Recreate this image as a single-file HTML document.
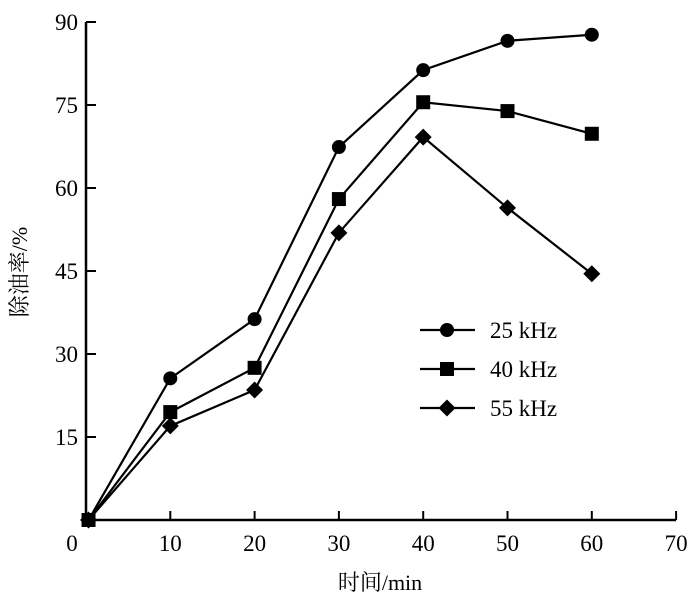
<!DOCTYPE html>
<html><head><meta charset="utf-8"><style>body{margin:0;background:#fff}svg text{font-family:"Liberation Serif","Noto Serif CJK SC",serif;fill:#000}</style></head>
<body>
<svg id="chart" width="700" height="601" xmlns="http://www.w3.org/2000/svg"></svg>
<script>
const times=[0.3,10,20,30,40,50,60];
const s25=[0,25.6,36.3,67.4,81.3,86.6,87.7];
const s40=[0,19.5,27.5,58,75.5,73.9,69.8];
const s55=[0,17,23.5,51.9,69.2,56.4,44.5];
const xTicks=[0,10,20,30,40,50,60,70];
const yTicks=[15,30,45,60,75,90];
const seriesNames=["25 kHz","40 kHz","55 kHz"];
const NS="http://www.w3.org/2000/svg";
const svg=document.getElementById('chart');
const X=v=>86+v*8.43, Y=v=>520-v*83/15;
function mk(t,a){const e=document.createElementNS(NS,t);for(const k in a)e.setAttribute(k,a[k]);svg.appendChild(e);return e;}
let e=mk('path',{d:`M86,22V520H${X(70)}`,fill:'none',stroke:'#000','stroke-width':2.5});


xTicks.forEach(t=>{
 if(t>0){let l=mk('line',{x1:X(t),x2:X(t),y1:520,y2:511,stroke:'#000','stroke-width':2});
 
 }
 let tx=mk('text',{x:t==0?72:X(t),y:551,'text-anchor':'middle','font-size':23});tx.textContent=t;
 
 
});
yTicks.forEach(t=>{
 let l=mk('line',{x1:86,x2:96,y1:Y(t),y2:Y(t),stroke:'#000','stroke-width':2});
 
 
 let tx=mk('text',{x:78,y:Y(t)+8,'text-anchor':'end','font-size':23});tx.textContent=t;
 
 
});
let xt=mk('text',{x:380,y:590,'text-anchor':'middle','font-size':22});xt.textContent='时间/min';


let yt=mk('text',{x:0,y:0,'text-anchor':'middle','font-size':22,transform:'translate(27,272) rotate(-90)'});yt.textContent='除油率/%';


function marker(kind,cx,cy){
 let m;
 if(kind==0)m=mk('circle',{cx,cy,r:7});
 else if(kind==1)m=mk('rect',{x:cx-7,y:cy-7,width:14,height:14});
 else m=mk('path',{d:`M${cx},${cy-8.5}L${cx+8.5},${cy}L${cx},${cy+8.5}L${cx-8.5},${cy}Z`});
 return m;
}
[s25,s40,s55].forEach((s,i)=>{
 let p=mk('polyline',{points:s.map((v,j)=>X(times[j])+','+Y(v)).join(' '),fill:'none',stroke:'#000','stroke-width':2.2});
 
 
 s.forEach((v,j)=>{let m=marker(i,X(times[j]),Y(v));
  
  });
 const ly=330+i*39;
 let ll=mk('line',{x1:420,x2:475,y1:ly,y2:ly,stroke:'#000','stroke-width':2.2});
 
 
 let lm=marker(i,447,ly);
 
 
 let lt=mk('text',{x:490,y:ly+8,'font-size':23});lt.textContent=seriesNames[i];
 
 
});
</script>
</body></html>
